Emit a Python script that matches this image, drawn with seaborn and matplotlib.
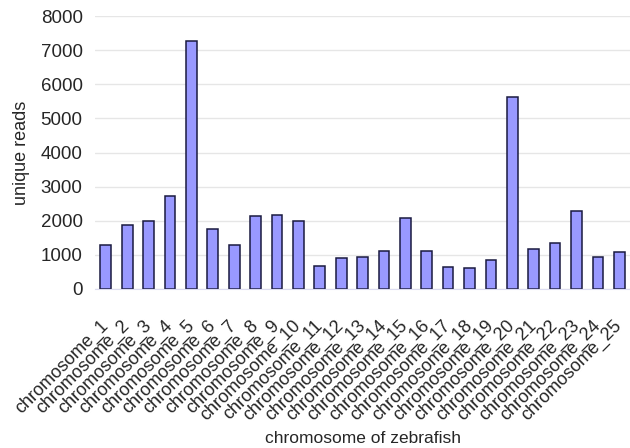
import seaborn as sns
import matplotlib.pyplot as plt
import matplotlib.transforms as mtransforms
import pandas as pd
import numpy as np
from matplotlib.ticker import FixedLocator

# values
chromosomes = [f"chromosome_{i}" for i in range(1, 26)]
reads = [1300, 1870, 1990, 2720, 7280, 1770, 1300, 2130, 2170, 1990,
         670, 900, 940, 1120, 2090, 1120, 635, 605, 860, 5640,
         1160, 1340, 2285, 940, 1075]

df = pd.DataFrame({"chromosome": chromosomes, "reads": reads})

sns.set_style("white")
plt.rcParams['font.family'] = ['Liberation Sans', 'DejaVu Sans']

fig = plt.figure(figsize=(6.3, 4.48), dpi=100)
ax = fig.add_axes([0.151, 0.355, 0.849, 0.609])

sns.barplot(data=df, x="chromosome", y="reads", color="#9999ff",
            edgecolor="#1a1a40", linewidth=1.1, width=0.5, saturation=1, ax=ax)

ax.set_ylim(0, 8000)
ax.set_xlim(-0.5, len(chromosomes) - 0.5)
ax.set_yticks(np.arange(0, 8001, 1000))
ax.yaxis.grid(True, color="#e6e6e6", linewidth=1)
ax.set_axisbelow(True)
for s in ["top", "right", "left"]:
    ax.spines[s].set_visible(False)
ax.spines["bottom"].set_color("#dcdcf0")

ax.tick_params(axis="y", labelsize=13.5, length=0, pad=9)
ax.tick_params(axis="x", which="major", length=0, labelsize=13, pad=20)
ax.xaxis.set_minor_locator(FixedLocator(np.arange(-0.5, len(chromosomes), 1)))
ax.tick_params(axis="x", which="minor", length=4, color="#dcdcf0", direction="in")
shift = mtransforms.ScaledTranslation(-6 / 100, 0, fig.dpi_scale_trans)
for lab in ax.get_xticklabels():
    lab.set_rotation(45)
    lab.set_ha("right")
    lab.set_rotation_mode("anchor")
    lab.set_transform(lab.get_transform() + shift)

ax.set_xlabel("chromosome of zebrafish", fontsize=12.5, labelpad=5)
ax.set_ylabel("unique reads", fontsize=13, labelpad=8)

fig.savefig("out.png", dpi=100)
